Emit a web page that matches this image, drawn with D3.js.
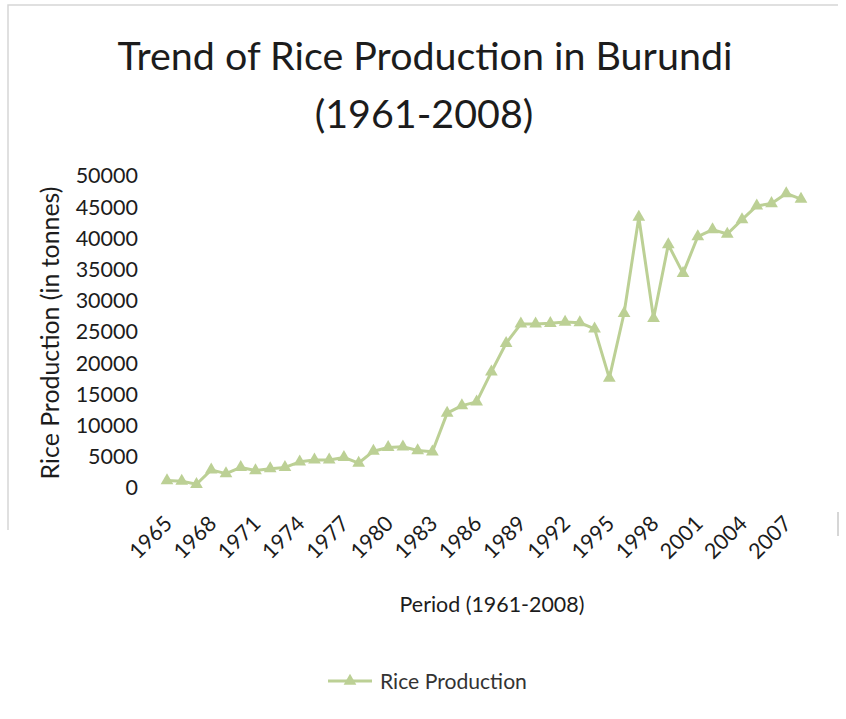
<!DOCTYPE html>
<html>
<head>
<meta charset="utf-8">
<script src="https://cdn.jsdelivr.net/npm/d3@7/dist/d3.min.js"></script>
<style>
  body { margin: 0; background: #fff; }
  svg { display: block; font-family: Lato, "Open Sans", sans-serif; }
</style>
</head>
<body>
<div class="container"></div>
<script>
var years = [1965, 1966, 1967, 1968, 1969, 1970, 1971, 1972, 1973, 1974,
             1975, 1976, 1977, 1978, 1979, 1980, 1981, 1982, 1983, 1984,
             1985, 1986, 1987, 1988, 1989, 1990, 1991, 1992, 1993, 1994,
             1995, 1996, 1997, 1998, 1999, 2000, 2001, 2002, 2003, 2004,
             2005, 2006, 2007, 2008];

var production = [1200, 1100, 600, 2900, 2300, 3300, 2800, 3100, 3300, 4200,
                  4500, 4500, 4900, 4000, 5900, 6500, 6600, 6000, 5800, 12000,
                  13200, 13800, 18600, 23200, 26300, 26300, 26400, 26600, 26500, 25500,
                  17600, 28000, 43400, 27200, 39000, 34400, 40300, 41400, 40700, 43000,
                  45200, 45600, 47200, 46300];

var xTickYears = [1965, 1968, 1971, 1974, 1977, 1980, 1983, 1986, 1989, 1992, 1995, 1998, 2001, 2004, 2007];
var yTicks = [0, 5000, 10000, 15000, 20000, 25000, 30000, 35000, 40000, 45000, 50000];

var W = 846, H = 719;
var green = "#bcd095";
var ink = "#1c1c1c";

var data = years.map(function(yr, i) { return {year: yr, value: production[i]}; });

var x = d3.scalePoint().domain(years).range([167, 801]);
var y = d3.scaleLinear().domain([0, 50000]).range([488, 176]);

var svg = d3.select(".container")
    .append("svg")
    .attr("width", W)
    .attr("height", H);

// fit a text to a given width (the original uses Calibri)
function fitTo(sel, w) {
  var fs = parseFloat(sel.style("font-size"));
  var len = sel.node().getComputedTextLength();
  sel.style("font-size", (fs * w / len) + "px");
}

// chart frame (only partly visible on the scan)
svg.append("path")
    .attr("d", "M8,530 V5 H838")
    .attr("fill", "none")
    .attr("stroke", "#d6d6d6")
    .attr("stroke-width", 1.5);
svg.append("path")
    .attr("d", "M838,512 V536")
    .attr("stroke", "#c8c8c8")
    .attr("stroke-width", 1.5);

// title
var t1 = svg.append("text")
    .attr("x", 425).attr("y", 70)
    .attr("text-anchor", "middle")
    .style("font-size", "40px")
    .attr("fill", ink)
    .text("Trend of Rice Production in Burundi");
fitTo(t1, 615);
svg.append("text")
    .attr("x", 424).attr("y", 128)
    .attr("text-anchor", "middle")
    .style("font-size", t1.style("font-size"))
    .attr("fill", ink)
    .text("(1961-2008)");

// y axis
var yAxis = svg.append("g")
    .attr("transform", "translate(138,0)")
    .call(d3.axisLeft(y).tickValues(yTicks).tickSize(0).tickPadding(0)
      .tickFormat(d3.format("d")));
yAxis.select(".domain").remove();
yAxis.selectAll("text")
    .style("font-family", "Lato, sans-serif")
    .style("font-size", "21.5px")
    .attr("fill", ink);

// x axis
var xAxis = svg.append("g")
    .attr("transform", "translate(0,488)")
    .call(d3.axisBottom(x).tickValues(xTickYears).tickSize(0).tickPadding(0));
xAxis.select(".domain").remove();
xAxis.selectAll("text")
    .style("font-family", "Lato, sans-serif")
    .style("font-size", "21.5px")
    .attr("fill", ink)
    .style("text-anchor", "end")
    .attr("dy", null)
    .attr("y", 0)
    .attr("transform", "translate(6,37) rotate(-45)");

// axis titles
var yt = svg.append("text")
    .attr("transform", "translate(59,333) rotate(-90)")
    .attr("text-anchor", "middle")
    .style("font-size", "22px")
    .attr("fill", ink)
    .text("Rice Production (in tonnes)");
fitTo(yt, 293);

var xt = svg.append("text")
    .attr("x", 492).attr("y", 612)
    .attr("text-anchor", "middle")
    .style("font-size", "20px")
    .attr("fill", ink)
    .text("Period (1961-2008)");
fitTo(xt, 185);

// series
var line = d3.line()
    .x(function(d) { return x(d.year); })
    .y(function(d) { return y(d.value); });

svg.append("path")
    .datum(data)
    .attr("fill", "none")
    .attr("stroke", green)
    .attr("stroke-width", 3)
    .attr("stroke-linejoin", "round")
    .attr("d", line);

var tri = d3.symbol().type(d3.symbolTriangle).size(70);

svg.selectAll(".pt")
    .data(data)
    .enter().append("path")
    .attr("class", "pt")
    .attr("d", tri)
    .attr("fill", green)
    .attr("transform", function(d) { return "translate(" + x(d.year) + "," + y(d.value) + ")"; });

// legend
svg.append("line")
    .attr("x1", 328).attr("x2", 372)
    .attr("y1", 681).attr("y2", 681)
    .attr("stroke", green)
    .attr("stroke-width", 3);
svg.append("path")
    .attr("d", tri)
    .attr("fill", green)
    .attr("transform", "translate(350,681)");
var lt = svg.append("text")
    .attr("x", 380).attr("y", 689)
    .style("font-size", "20px")
    .attr("fill", "#333")
    .text("Rice Production");
fitTo(lt, 147);
</script>
</body>
</html>
